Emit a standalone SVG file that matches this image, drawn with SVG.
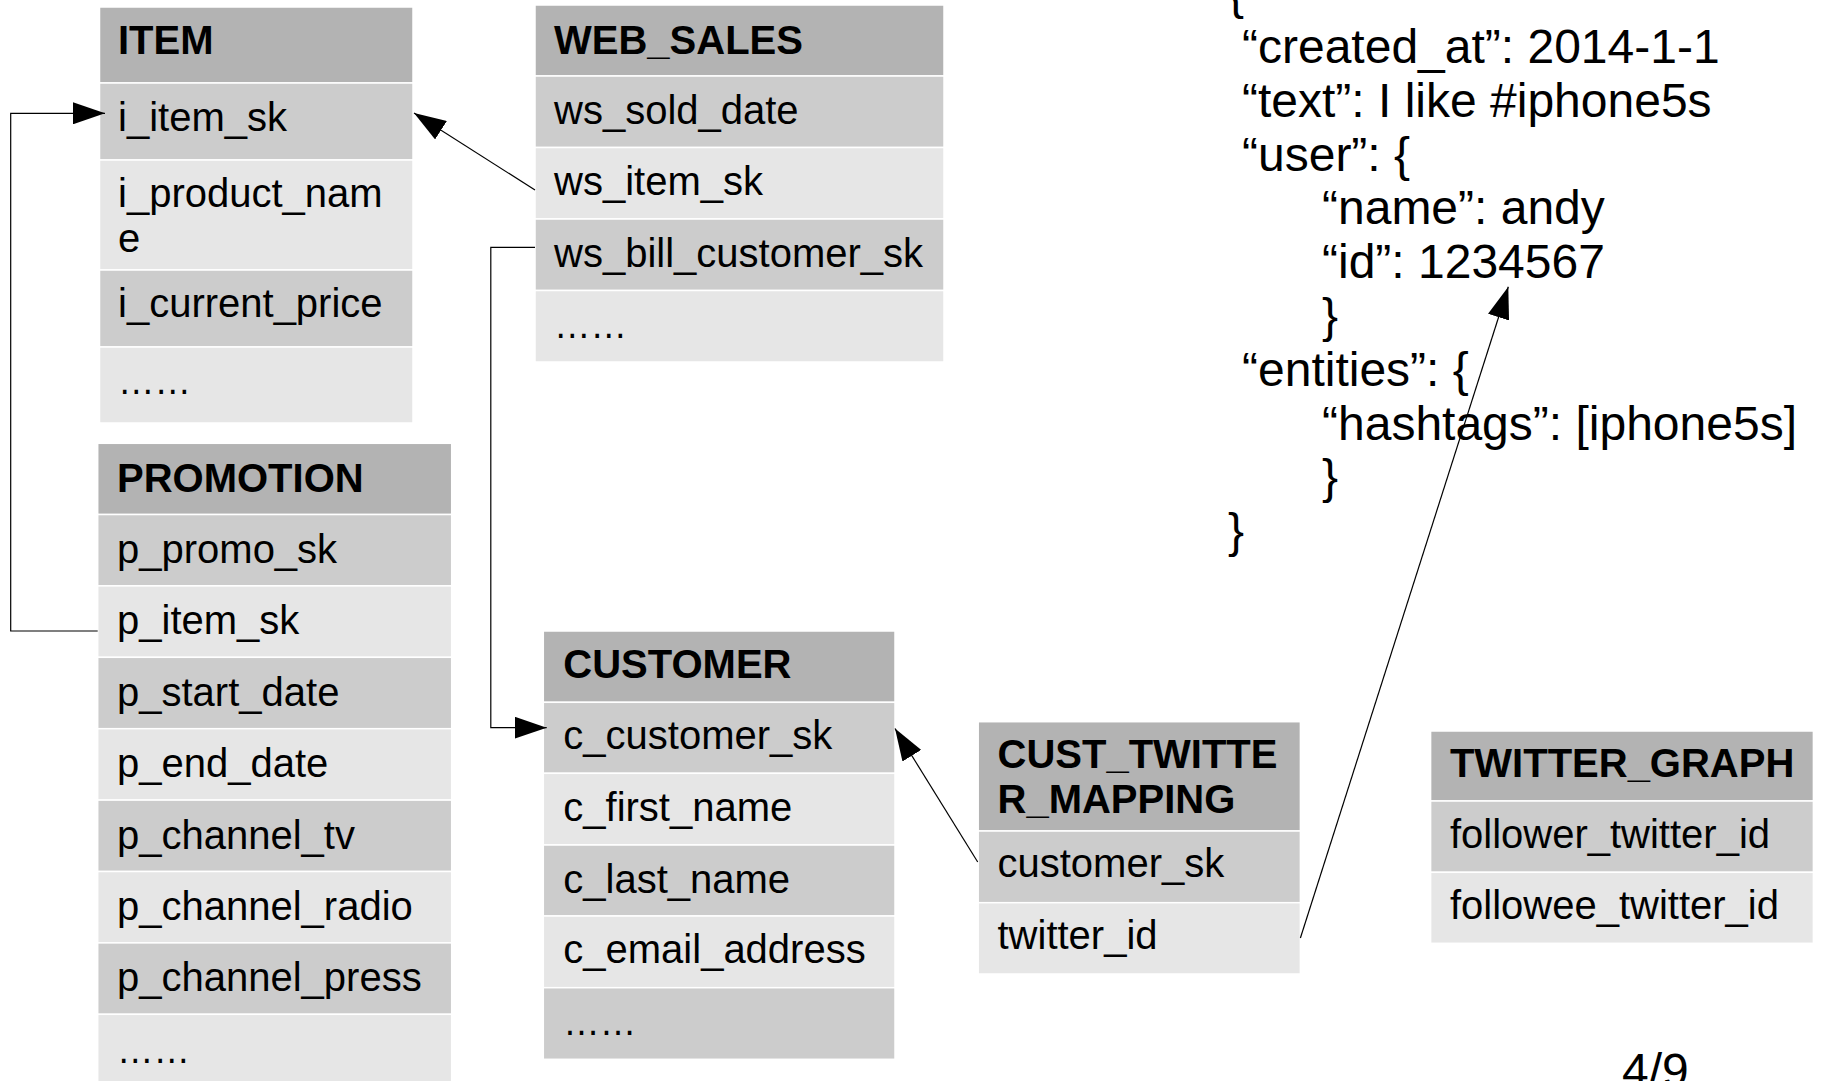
<svg xmlns="http://www.w3.org/2000/svg" width="1825" height="1081" viewBox="0 0 1825 1081">
<style>
text{font-family:"Liberation Sans",Arial,sans-serif;font-size:40px;fill:#000}
.h{font-weight:bold}
.j{font-size:48px}
.hd{fill:#b3b3b3;stroke:#fff;stroke-width:1.5}
.dk{fill:#cccccc;stroke:#fff;stroke-width:1.5}
.lt{fill:#e6e6e6;stroke:#fff;stroke-width:1.5}
.c{fill:none;stroke:#000;stroke-width:1.2}
</style>
<defs>
<marker id="ah" markerUnits="userSpaceOnUse" markerWidth="32" markerHeight="22" refX="32" refY="11" orient="auto" viewBox="0 0 32 22">
<path d="M0,0 L32,11 L0,22 z" fill="#000"/>
</marker>
</defs>
<rect width="1825" height="1081" fill="#fff"/>

<g id="item">
<rect class="hd" x="99.5" y="7" width="313.5" height="76"/>
<rect class="dk" x="99.5" y="83" width="313.5" height="77"/>
<rect class="lt" x="99.5" y="160" width="313.5" height="110"/>
<rect class="dk" x="99.5" y="270" width="313.5" height="77"/>
<rect class="lt" x="99.5" y="347" width="313.5" height="76"/>
<text class="h" x="118" y="54">ITEM</text>
<text x="118" y="130.5">i_item_sk</text>
<text x="118" y="206.5">i_product_nam</text>
<text x="118" y="251.5">e</text>
<text x="118" y="317">i_current_price</text>
<text x="118" y="394" textLength="73" lengthAdjust="spacingAndGlyphs">……</text>
</g>

<g id="web_sales">
<rect class="hd" x="535" y="5" width="409" height="71"/>
<rect class="dk" x="535" y="76" width="409" height="71.5"/>
<rect class="lt" x="535" y="147.5" width="409" height="71.5"/>
<rect class="dk" x="535" y="219" width="409" height="71.5"/>
<rect class="lt" x="535" y="290.5" width="409" height="71.5"/>
<text class="h" x="554" y="54">WEB_SALES</text>
<text x="554" y="123.5">ws_sold_date</text>
<text x="554" y="194.5">ws_item_sk</text>
<text x="554" y="266.5">ws_bill_customer_sk</text>
<text x="554" y="338" textLength="73" lengthAdjust="spacingAndGlyphs">……</text>
</g>

<g id="promotion">
<rect class="hd" x="97.7" y="443.3" width="354" height="71.2"/>
<rect class="dk" x="97.7" y="514.5" width="354" height="71.4"/>
<rect class="lt" x="97.7" y="585.9" width="354" height="71.4"/>
<rect class="dk" x="97.7" y="657.3" width="354" height="71.4"/>
<rect class="lt" x="97.7" y="728.7" width="354" height="71.4"/>
<rect class="dk" x="97.7" y="800.1" width="354" height="71.4"/>
<rect class="lt" x="97.7" y="871.5" width="354" height="71.4"/>
<rect class="dk" x="97.7" y="942.9" width="354" height="71.4"/>
<rect class="lt" x="97.7" y="1014.3" width="354" height="71.4"/>
<text class="h" x="117" y="491.5">PROMOTION</text>
<text x="117" y="563">p_promo_sk</text>
<text x="117" y="634.4">p_item_sk</text>
<text x="117" y="705.8">p_start_date</text>
<text x="117" y="777.2">p_end_date</text>
<text x="117" y="848.6">p_channel_tv</text>
<text x="117" y="920">p_channel_radio</text>
<text x="117" y="991.4">p_channel_press</text>
<text x="117" y="1062.8" textLength="73" lengthAdjust="spacingAndGlyphs">……</text>
</g>

<g id="customer">
<rect class="hd" x="543.3" y="631" width="351.7" height="71.3"/>
<rect class="dk" x="543.3" y="702.3" width="351.7" height="71"/>
<rect class="lt" x="543.3" y="773.3" width="351.7" height="71.7"/>
<rect class="dk" x="543.3" y="845" width="351.7" height="71"/>
<rect class="lt" x="543.3" y="916" width="351.7" height="71.7"/>
<rect class="dk" x="543.3" y="987.7" width="351.7" height="71.6"/>
<text class="h" x="563.3" y="678">CUSTOMER</text>
<text x="563.3" y="749">c_customer_sk</text>
<text x="563.3" y="821">c_first_name</text>
<text x="563.3" y="892.5">c_last_name</text>
<text x="563.3" y="963.3">c_email_address</text>
<text x="563.3" y="1035" textLength="73" lengthAdjust="spacingAndGlyphs">……</text>
</g>

<g id="cust_twitter_mapping">
<rect class="hd" x="978.2" y="721.7" width="322.2" height="109.3"/>
<rect class="dk" x="978.2" y="831" width="322.2" height="71.7"/>
<rect class="lt" x="978.2" y="902.7" width="322.2" height="71.3"/>
<text class="h" x="997.5" y="767.5">CUST_TWITTE</text>
<text class="h" x="997.5" y="812.5">R_MAPPING</text>
<text x="997.5" y="877">customer_sk</text>
<text x="997.5" y="949">twitter_id</text>
</g>

<g id="twitter_graph">
<rect class="hd" x="1430.6" y="731" width="382.8" height="70"/>
<rect class="dk" x="1430.6" y="801" width="382.8" height="71.3"/>
<rect class="lt" x="1430.6" y="872.3" width="382.8" height="71"/>
<text class="h" x="1449.9" y="777">TWITTER_GRAPH</text>
<text x="1449.9" y="847.7">follower_twitter_id</text>
<text x="1449.9" y="919">followee_twitter_id</text>
</g>

<g id="tweet_json">
<text class="j" x="1228" y="9">{</text>
<text class="j" x="1242" y="63">“created_at”: 2014-1-1</text>
<text class="j" x="1242" y="116.8">“text”: I like #iphone5s</text>
<text class="j" x="1242" y="170.6">“user”: {</text>
<text class="j" x="1322" y="224.4">“name”: andy</text>
<text class="j" x="1322" y="278.2">“id”: 1234567</text>
<text class="j" x="1322" y="332">}</text>
<text class="j" x="1242" y="385.8">“entities”: {</text>
<text class="j" x="1322" y="439.6">“hashtags”: [iphone5s]</text>
<text class="j" x="1322" y="493.4">}</text>
<text class="j" x="1228" y="547.2">}</text>
</g>

<g id="page_number">
<text x="1622" y="1087" style="font-size:48px">4/9</text>
</g>

<g id="connectors">
<path class="c" d="M97.7,631 H10.7 V113.3 H105" marker-end="url(#ah)"/>
<path class="c" d="M535,190 L414,113" marker-end="url(#ah)"/>
<path class="c" d="M535,247.3 H490.8 V727.7 H546.7" marker-end="url(#ah)"/>
<path class="c" d="M977.7,862 L895,728.5" marker-end="url(#ah)"/>
<path class="c" d="M1300.4,938 L1508.3,286.7" marker-end="url(#ah)"/>
</g>
</svg>
